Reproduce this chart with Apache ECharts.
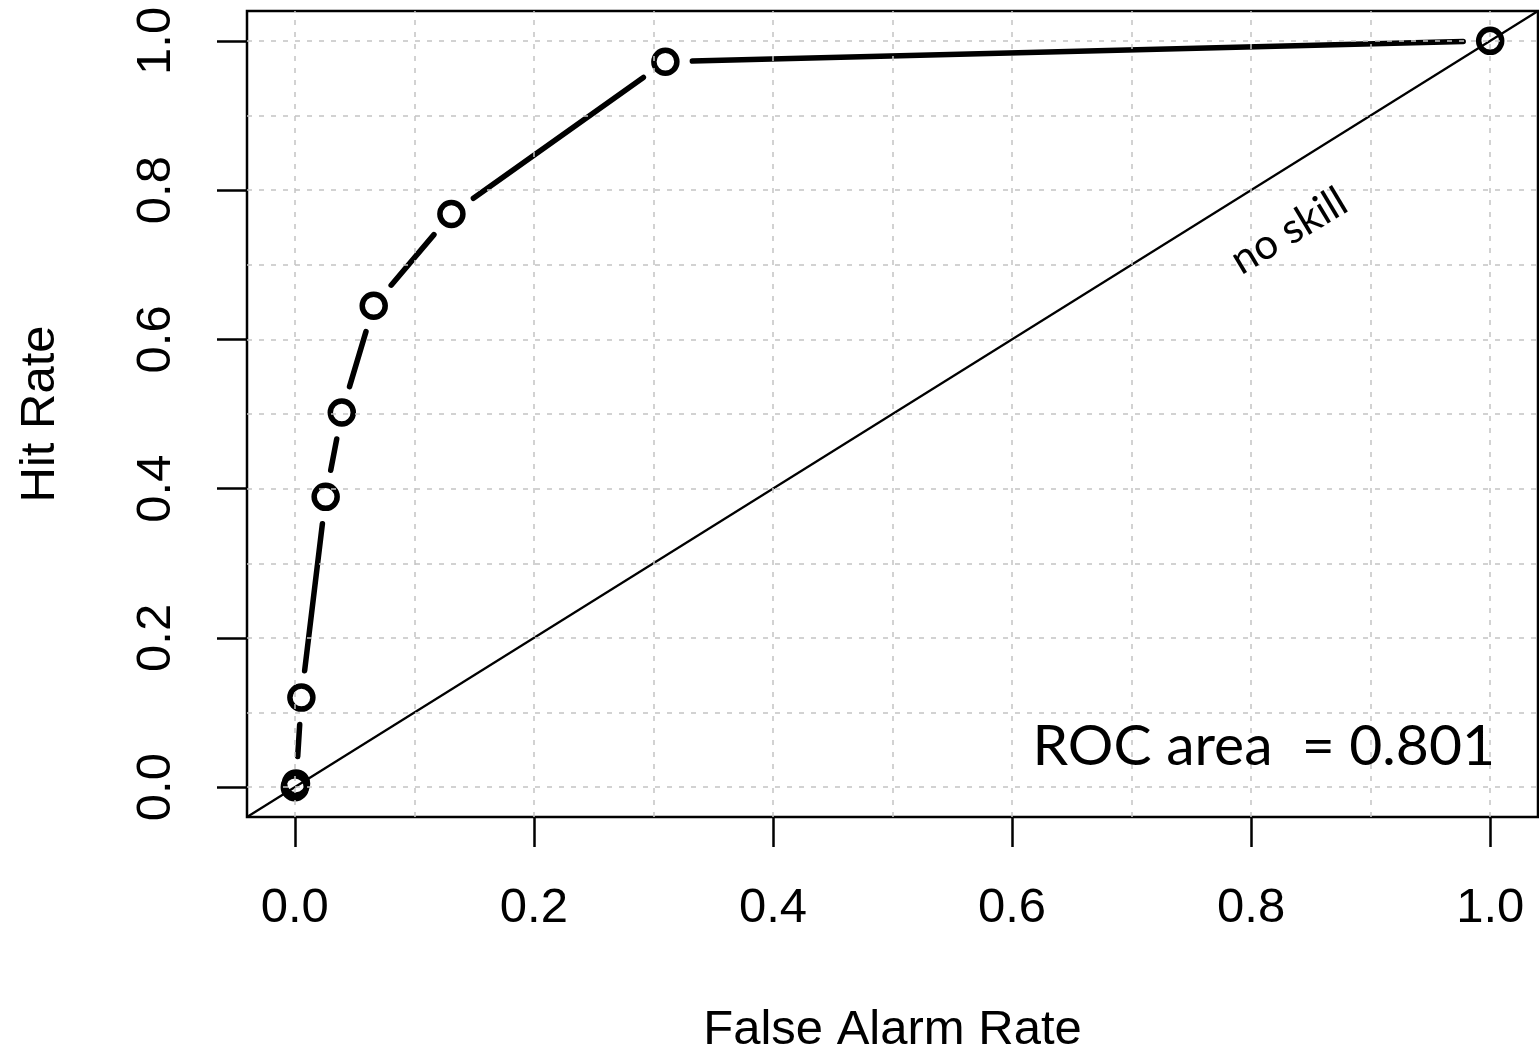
<!DOCTYPE html>
<html>
<head>
<meta charset="utf-8">
<script src="https://cdn.jsdelivr.net/npm/echarts@6/dist/echarts.min.js"></script>
<style>
  html, body { margin: 0; padding: 0; background: #fff; }
  #chart { width: 1539px; height: 1054px; }
</style>
</head>
<body>
<div id="chart"></div>
<script>
// ROC curve points
var falseAlarm = [0, 0.001, 0.0055, 0.0258, 0.0393, 0.066, 0.131, 0.310, 1];
var hitRate    = [0, 0.005, 0.120, 0.389, 0.502, 0.645, 0.768, 0.972, 1];
var tickValues = [0, 0.2, 0.4, 0.6, 0.8, 1.0];
var gridValues = [0, 0.1, 0.2, 0.3, 0.4, 0.5, 0.6, 0.7, 0.8, 0.9, 1.0];
var axisRange  = [-0.04, 1.04];
var noSkill    = [[-0.04, -0.04], [1.04, 1.04]];
var rocArea    = 0.801;

var chart = echarts.init(document.getElementById('chart'));

// plot box, and the inner 0..1 area used for the tick axes
var box = { left: 247, top: 11, width: 1291, height: 806 };
var span = axisRange[1] - axisRange[0];
var padX = box.width * (0 - axisRange[0]) / span;
var padY = box.height * (axisRange[1] - 1) / span;
var inner = {
  left: box.left + padX,
  top: box.top + padY,
  width: box.width / span,
  height: box.height / span
};

var points = falseAlarm.map(function (x, i) { return [x, hitRate[i]]; });
var segments = [];
for (var i = 0; i < points.length - 1; i++) {
  segments.push([points[i][0], points[i][1], points[i + 1][0], points[i + 1][1]]);
}

var GAP = 27; // R type="b" leaves a gap round each point

var axisFont = 'Liberation Sans, Arial, sans-serif';

var option = {
  animation: false,
  backgroundColor: '#fff',
  grid: [
    { left: box.left, top: box.top, width: box.width, height: box.height,
      outerBoundsMode: 'none', containLabel: false,
      show: true, borderColor: '#000', borderWidth: 2.5, backgroundColor: 'transparent' },
    { left: inner.left, top: inner.top, width: inner.width, height: inner.height,
      outerBoundsMode: 'none', containLabel: false }
  ],
  xAxis: [
    { type: 'value', gridIndex: 0, min: axisRange[0], max: axisRange[1],
      axisLine: { show: false }, axisTick: { show: false },
      axisLabel: { show: false }, splitLine: { show: false } },
    { type: 'value', gridIndex: 1, min: tickValues[0], max: tickValues[tickValues.length - 1],
      interval: tickValues[1] - tickValues[0],
      offset: padY,
      axisLine: { show: false, onZero: false },
      axisTick: { show: true, inside: false, length: 30, lineStyle: { color: '#000', width: 2.5 } },
      axisLabel: { margin: 67, fontSize: 49, color: '#000', fontFamily: axisFont,
        formatter: function (v) { return v.toFixed(1); } },
      splitLine: { show: false },
      name: 'False Alarm Rate', nameLocation: 'middle', nameGap: 189,
      nameTextStyle: { fontSize: 49, color: '#000', fontFamily: axisFont } }
  ],
  yAxis: [
    { type: 'value', gridIndex: 0, min: axisRange[0], max: axisRange[1],
      axisLine: { show: false }, axisTick: { show: false },
      axisLabel: { show: false }, splitLine: { show: false } },
    { type: 'value', gridIndex: 1, min: tickValues[0], max: tickValues[tickValues.length - 1],
      interval: tickValues[1] - tickValues[0],
      offset: padX,
      axisLine: { show: false, onZero: false },
      axisTick: { show: true, inside: false, length: 30, lineStyle: { color: '#000', width: 2.5 } },
      axisLabel: { margin: 66, fontSize: 49, color: '#000', fontFamily: axisFont, rotate: 90,
        formatter: function (v) { return v.toFixed(1); } },
      splitLine: { show: false },
      name: 'Hit Rate', nameLocation: 'middle', nameGap: 182,
      nameTextStyle: { fontSize: 49, color: '#000', fontFamily: axisFont } }
  ],
  graphic: [
    { type: 'text', x: 1495, y: 747, z: 10,
      style: { text: 'ROC area  = ' + rocArea.toFixed(3), fill: '#000',
        font: '57px Lato, "Open Sans", sans-serif', align: 'right', verticalAlign: 'middle' } },
    { type: 'text', x: 1289, y: 231, rotation: 0.54, z: 10,
      style: { text: 'no skill', fill: '#000',
        font: '42px Lato, "Open Sans", sans-serif', align: 'center', verticalAlign: 'middle' } }
  ],
  series: [
    { // dotted reference grid
      type: 'line', xAxisIndex: 0, yAxisIndex: 0, data: [], z: 1, silent: true,
      markLine: {
        silent: true, symbol: ['none', 'none'], label: { show: false },
        lineStyle: { color: '#c4c4c4', width: 1.5, type: [5, 7] },
        data: gridValues.map(function (v) { return { xAxis: v }; })
          .concat(gridValues.map(function (v) { return { yAxis: v }; }))
      }
    },
    { // no skill diagonal
      type: 'line', xAxisIndex: 0, yAxisIndex: 0, data: noSkill, z: 2,
      symbol: 'none', silent: true,
      lineStyle: { color: '#000', width: 2.2 }
    },
    { // ROC curve segments, shortened at both ends
      type: 'custom', xAxisIndex: 0, yAxisIndex: 0, data: segments, z: 3, silent: true,
      encode: { x: [0, 2], y: [1, 3] },
      renderItem: function (params, api) {
        var a = api.coord([api.value(0), api.value(1)]);
        var b = api.coord([api.value(2), api.value(3)]);
        var dx = b[0] - a[0], dy = b[1] - a[1];
        var len = Math.sqrt(dx * dx + dy * dy);
        if (len <= 2 * GAP) return null;
        var ux = dx / len, uy = dy / len;
        return {
          type: 'line',
          shape: { x1: a[0] + ux * GAP, y1: a[1] + uy * GAP, x2: b[0] - ux * GAP, y2: b[1] - uy * GAP },
          style: { stroke: '#000', lineWidth: 5.5, lineCap: 'round' }
        };
      }
    },
    { // open circles
      type: 'scatter', xAxisIndex: 0, yAxisIndex: 0, data: points, z: 4, silent: true,
      symbol: 'circle', symbolSize: 23, clip: false,
      itemStyle: { color: 'rgba(0,0,0,0)', borderColor: '#000', borderWidth: 5.5, opacity: 1 }
    }
  ]
};

chart.setOption(option);
</script>
</body>
</html>
